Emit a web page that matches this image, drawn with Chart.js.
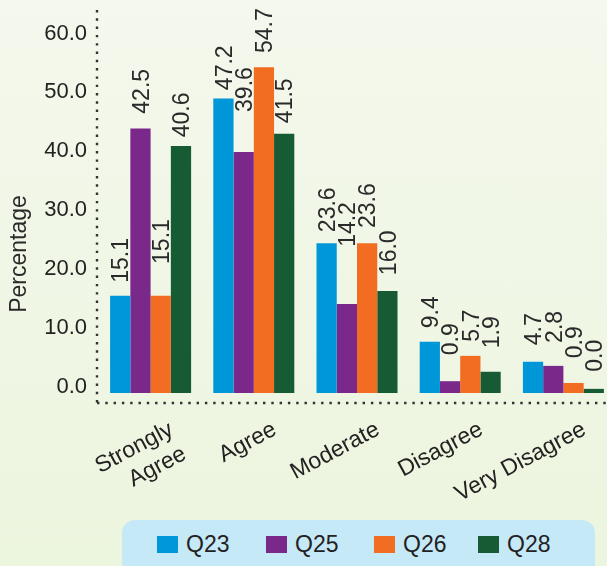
<!DOCTYPE html>
<html>
<head>
<meta charset="utf-8">
<script src="https://cdn.jsdelivr.net/npm/chart.js@4.4.1/dist/chart.umd.min.js"></script>
<style>
  html, body { margin: 0; padding: 0; overflow: hidden; }
  body { width: 607px; height: 566px; background: linear-gradient(#f4f8ed, #ecf5de); position: relative; font-family: "Liberation Sans", Arial, sans-serif; }
  #wrap { position: absolute; left: 0; top: 0; width: 620px; height: 566px; }
  #legend { position: absolute; left: 122px; top: 520px; width: 473px; height: 70px; border-radius: 13px; background: #c6e9f8; }
  .item { position: absolute; top: 16px; height: 17px; display: flex; align-items: center; font-size: 23px; color: #222; white-space: nowrap; }
  .sw { width: 21px; height: 17px; margin-right: 8px; flex: none; }
</style>
</head>
<body>
<div id="wrap"><canvas id="c"></canvas></div>
<div id="legend"></div>
<script>
// ---- data ----
const categories = [['Strongly', 'Agree'], 'Agree', 'Moderate', 'Disagree', 'Very Disagree'];
const seriesNames = ['Q23', 'Q25', 'Q26', 'Q28'];
const seriesColors = ['#0097d8', '#7a288a', '#f26c22', '#175b35'];

// bar heights as drawn
const q23 = [16.5, 50.0, 25.4, 8.7, 5.3];
const q25 = [44.9, 40.9, 15.1, 2.0, 4.6];
const q26 = [16.5, 55.3, 25.4, 6.3, 1.7];
const q28 = [41.9, 44.0, 17.3, 3.6, 0.7];

// value labels as printed
const q23Labels = ['15.1', '47.2', '23.6', '9.4', '4.7'];
const q25Labels = ['42.5', '39.6', '14.2', '0.9', '2.8'];
const q26Labels = ['15.1', '54.7', '23.6', '5.7', '0.9'];
const q28Labels = ['40.6', '41.5', '16.0', '1.9', '0.0'];

// axis value where each printed label starts
const q23LabelAt = [18.7, 51.4, 27.3, 11.0, 8.1];
const q25LabelAt = [47.4, 47.7, 24.8, 6.4, 8.5];
const q26LabelAt = [21.9, 57.7, 28.0, 8.7, 5.9];
const q28LabelAt = [43.4, 45.8, 20.0, 7.6, 3.6];

const yTicks = [0, 10, 20, 30, 40, 50, 60];
const yTitle = 'Percentage';

// ---- chart ----
const FONT = '"Liberation Sans", Arial, Helvetica, sans-serif';
const values = [q23, q25, q26, q28];
const labelsText = [q23Labels, q25Labels, q26Labels, q28Labels];
const labelsAt = [q23LabelAt, q25LabelAt, q26LabelAt, q28LabelAt];

const datasets = seriesNames.map((n, i) => ({
  label: n,
  data: values[i],
  backgroundColor: seriesColors[i],
  borderWidth: 0,
  valueLabels: labelsText[i],
  labelAt: labelsAt[i],
  barPercentage: 1.0,
  categoryPercentage: 0.785
}));

const valueLabelPlugin = {
  id: 'valueLabels',
  afterDatasetsDraw(chart) {
    const ctx = chart.ctx;
    const ys = chart.scales.y;
    const size = 23;
    chart.data.datasets.forEach((ds, di) => {
      const meta = chart.getDatasetMeta(di);
      meta.data.forEach((bar, i) => {
        const py = ys.getPixelForValue(ds.labelAt[i]);
        ctx.save();
        ctx.translate(bar.x, py);
        ctx.rotate(-Math.PI / 2);
        ctx.font = size + 'px ' + FONT;
        ctx.fillStyle = '#2a2a2a';
        ctx.textAlign = 'left';
        ctx.textBaseline = 'alphabetic';
        ctx.fillText(ds.valueLabels[i], 0, size * 0.716 / 2);
        ctx.restore();
      });
    });
  }
};

const axesPlugin = {
  id: 'dottedAxes',
  afterDraw(chart) {
    const ctx = chart.ctx;
    const a = chart.chartArea;
    ctx.save();
    ctx.strokeStyle = '#333';
    ctx.lineWidth = 2.4;
    ctx.setLineDash([2.4, 5.9]);
    ctx.beginPath();
    ctx.moveTo(a.left - 2, a.top);
    ctx.lineTo(a.left - 2, a.bottom);
    ctx.stroke();
    ctx.beginPath();
    ctx.moveTo(a.left - 2, a.bottom);
    ctx.lineTo(chart.width, a.bottom);
    ctx.stroke();
    ctx.restore();
    // y title
    ctx.save();
    ctx.translate(20, 254);
    ctx.rotate(-Math.PI / 2);
    ctx.font = '23px ' + FONT;
    ctx.fillStyle = '#2a2a2a';
    ctx.textAlign = 'center';
    ctx.textBaseline = 'middle';
    ctx.fillText(yTitle, 0, 0);
    ctx.restore();
  }
};

new Chart(document.getElementById('c'), {
  type: 'bar',
  data: { labels: categories, datasets },
  plugins: [valueLabelPlugin, axesPlugin],
  options: {
    responsive: true,
    maintainAspectRatio: false,
    animation: false,
    layout: { padding: { top: 10, bottom: 63, left: 0, right: 5 } },
    plugins: { legend: { display: false }, tooltip: { enabled: false } },
    scales: {
      x: {
        grid: { display: false, drawTicks: false },
        border: { display: false },
        ticks: {
          autoSkip: false, minRotation: 28, maxRotation: 28,
          labelOffset: 21, padding: 13,
          color: '#222', font: { family: FONT, size: 23 }
        },
        afterFit(s) { s.height = 100; s.paddingLeft = 0; s.paddingRight = 0; }
      },
      y: {
        min: -1.7, max: 65,
        grid: { display: false, drawTicks: false },
        border: { display: false },
        afterBuildTicks(s) { s.ticks = yTicks.map(v => ({ value: v })); },
        ticks: {
          padding: 12, labelOffset: -6,
          color: '#222', font: { family: FONT, size: 22 },
          callback: v => Number(v).toFixed(1)
        },
        afterFit(s) { s.width = 99; s.paddingTop = 0; s.paddingBottom = 0; }
      }
    }
  }
});

// legend
const lg = document.getElementById('legend');
const itemLeft = [35, 144, 252, 356];
seriesNames.forEach((n, i) => {
  const d = document.createElement('div');
  d.className = 'item';
  d.style.left = itemLeft[i] + 'px';
  const s = document.createElement('span');
  s.className = 'sw';
  s.style.background = seriesColors[i];
  d.appendChild(s);
  d.appendChild(document.createTextNode(n));
  lg.appendChild(d);
});
</script>
</body>
</html>
